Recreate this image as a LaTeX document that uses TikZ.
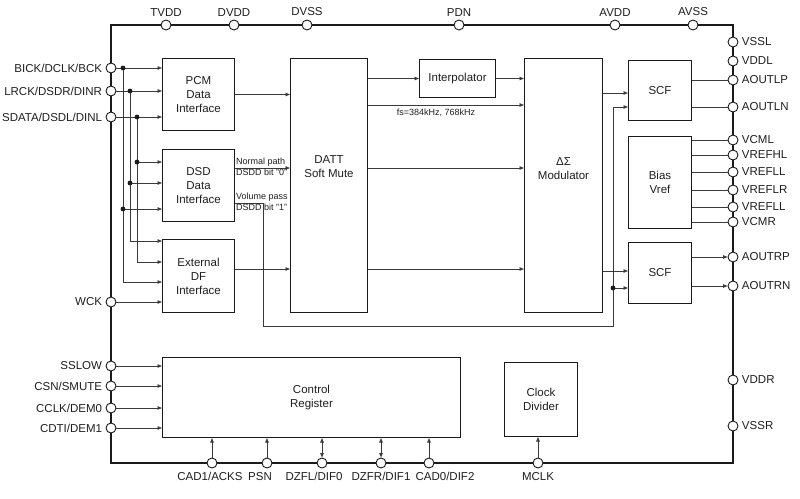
\documentclass[tikz,border=0pt]{standalone}
\usepackage{fontspec}
\setmainfont{Liberation Sans}
\usepackage{xcolor}
\definecolor{cLine}{HTML}{1A1A1A}
\definecolor{cWire}{HTML}{3A3A3A}
\definecolor{cText}{HTML}{1E1E1E}
\usepackage{tikz}
\usetikzlibrary{positioning,arrows.meta,calc}
\tikzset{
  node-box/.style={draw=cLine,line width=1pt,inner sep=0pt,align=center},
  node-pin/.style={draw=cLine,line width=0.9pt,fill=white,circle,
    minimum size=10pt,inner sep=0pt,label distance=-1.5pt},
  node-note/.style={font=\fontsize{9}{10}\selectfont,inner sep=1pt},
  % frame = chip outline, wire = signal lines inside
  frame-line/.style={draw=cLine,line width=1.1pt},
  wire/.style={draw=cWire,line width=0.8pt},
  arrow/.style={wire,-{Triangle[length=4.5pt,width=3.5pt]}},
  arrow-both/.style={wire,{Triangle[length=4.5pt,width=3.5pt]}-{Triangle[length=4.5pt,width=3.5pt]}},
}

\begin{document}
\begin{tikzpicture}[x=1pt,y=-1pt,font=\fontsize{11.5}{14}\selectfont,text=cText]
  \useasboundingbox (0,0) rectangle (800,498);
  \coordinate (frame-nw) at (111,25);
  \coordinate (frame-se) at (733,463);
  \draw[frame-line] (frame-nw) rectangle (frame-se);

  % blocks
  \node[node-box,minimum width=72pt,minimum height=72pt,anchor=north west] (pcm) at (162,58) {PCM\\Data\\Interface};
  \node[node-box,minimum width=72pt,minimum height=72pt,below=18pt of pcm.south west,anchor=north west] (dsd) {DSD\\Data\\Interface};
  \node[node-box,minimum width=72pt,minimum height=73pt,below=17pt of dsd.south west,anchor=north west] (ext) {External\\DF\\Interface};
  \node[node-box,minimum width=77pt,minimum height=254pt,anchor=north west] (datt) at (290,58) {};
  \node[align=center] (datt-txt) at ($(datt.center)+(0,-19)$) {DATT\\Soft Mute};
  \node[node-box,minimum width=76pt,minimum height=38pt,anchor=north west] (interp) at (419,59) {Interpolator};
  \node[node-box,minimum width=78pt,minimum height=254pt,anchor=north west] (mod) at (524,58) {};
  \node[align=center] (mod-txt) at ($(mod.center)+(0,-17)$) {ΔΣ\\Modulator};
  \node[node-box,minimum width=63pt,minimum height=60pt,anchor=north west] (scf-l) at (628,60) {SCF};
  \node[node-box,minimum width=63pt,minimum height=92pt,anchor=north west] (bias) at (628,136) {Bias\\Vref};
  \node[node-box,minimum width=63pt,minimum height=61pt,anchor=north west] (scf-r) at (628,242) {SCF};
  \node[node-box,minimum width=298pt,minimum height=80pt,anchor=north west] (ctrl) at (162,357) {Control\\Register};
  \node[node-box,minimum width=73pt,minimum height=74pt,anchor=north west] (clkdiv) at (504,362) {Clock\\Divider};

  % pins, top
  \node[node-pin,label=above:TVDD] (p-tvdd) at (166,25) {};
  \node[node-pin,label=above:DVDD] (p-dvdd) at (234,25) {};
  \node[node-pin,label=above:DVSS] (p-dvss) at (307,25) {};
  \node[node-pin,label=above:PDN] (p-pdn) at (459,25) {};
  \node[node-pin,label=above:AVDD] (p-avdd) at (615,25) {};
  \node[node-pin,label=above:AVSS] (p-avss) at (693,25) {};
  % pins, left
  \node[node-pin,label=left:BICK/DCLK/BCK] (p-bick) at (111,68) {};
  \node[node-pin,label=left:LRCK/DSDR/DINR] (p-lrck) at (111,91) {};
  \node[node-pin,label=left:SDATA/DSDL/DINL] (p-sdata) at (111,117) {};
  \node[node-pin,label=left:WCK] (p-wck) at (111,302) {};
  \node[node-pin,label=left:SSLOW] (p-sslow) at (111,366) {};
  \node[node-pin,label=left:CSN/SMUTE] (p-csn) at (111,386) {};
  \node[node-pin,label=left:CCLK/DEM0] (p-cclk) at (111,408) {};
  \node[node-pin,label=left:CDTI/DEM1] (p-cdti) at (111,428) {};
  % pins, right
  \node[node-pin,label=right:VSSL] (p-vssl) at (733,42) {};
  \node[node-pin,label=right:VDDL] (p-vddl) at (733,61) {};
  \node[node-pin,label=right:AOUTLP] (p-aoutlp) at (733,80) {};
  \node[node-pin,label=right:AOUTLN] (p-aoutln) at (733,107) {};
  \node[node-pin,label=right:VCML] (p-vcml) at (733,140) {};
  \node[node-pin,label=right:VREFHL] (p-vrefhl) at (733,155) {};
  \node[node-pin,label=right:VREFLL] (p-vrefll) at (733,172) {};
  \node[node-pin,label=right:VREFLR] (p-vreflr) at (733,190) {};
  \node[node-pin,label=right:VREFLL] (p-vrefll-b) at (733,207) {};
  \node[node-pin,label=right:VCMR] (p-vcmr) at (733,222) {};
  \node[node-pin,label=right:AOUTRP] (p-aoutrp) at (733,257) {};
  \node[node-pin,label=right:AOUTRN] (p-aoutrn) at (733,286) {};
  \node[node-pin,label=right:VDDR] (p-vddr) at (733,380) {};
  \node[node-pin,label=right:VSSR] (p-vssr) at (733,426) {};
  % pins, bottom (labels sit a little off-centre, as printed)
  \node[node-pin,label={[xshift=-2pt]below:CAD1/ACKS}] (p-cad1) at (212,463) {};
  \node[node-pin,label={[xshift=-7pt]below:PSN}] (p-psn) at (267,463) {};
  \node[node-pin,label={[xshift=-8pt]below:DZFL/DIF0}] (p-dzfl) at (322,463) {};
  \node[node-pin,label=below:DZFR/DIF1] (p-dzfr) at (381,463) {};
  \node[node-pin,label={[xshift=16pt]below:CAD0/DIF2}] (p-cad0) at (429,463) {};
  \node[node-pin,label=below:MCLK] (p-mclk) at (538,463) {};

  % serial inputs and bus
  \coordinate (j-bick) at (p-bick -| 123,0);
  \coordinate (j-lrck) at (p-lrck -| 130,0);
  \coordinate (j-sdata) at (p-sdata -| 137,0);
  \coordinate (j-bick-dsd) at (j-bick |- 0,209);
  \coordinate (j-lrck-dsd) at (j-lrck |- 0,183);
  \coordinate (j-sdata-dsd) at (j-sdata |- 0,162);
  \draw[arrow] (p-bick) -- (p-bick -| pcm.west);
  \draw[arrow] (p-lrck) -- (p-lrck -| pcm.west);
  \draw[arrow] (p-sdata) -- (p-sdata -| pcm.west);
  \draw[arrow] (j-bick) |- (ext.west |- 0,282);
  \draw[arrow] (j-lrck) |- (ext.west |- 0,241);
  \draw[arrow] (j-sdata) |- (ext.west |- 0,262);
  \draw[arrow] (j-bick-dsd) -- (j-bick-dsd -| dsd.west);
  \draw[arrow] (j-lrck-dsd) -- (j-lrck-dsd -| dsd.west);
  \draw[arrow] (j-sdata-dsd) -- (j-sdata-dsd -| dsd.west);
  \draw[arrow] (p-wck) -- (p-wck -| ext.west);
  \fill[cLine] (j-bick) circle (2.4pt) (j-lrck) circle (2.4pt) (j-sdata) circle (2.4pt)
    (j-bick-dsd) circle (2.4pt) (j-lrck-dsd) circle (2.4pt) (j-sdata-dsd) circle (2.4pt);

  % interfaces to DATT
  \draw[arrow] (pcm.east) -- (pcm.east -| datt.west);
  \coordinate (dsd-norm) at (dsd.east |- 0,168);
  \draw[arrow] (dsd-norm) -- (dsd-norm -| datt.west);
  \node[node-note,anchor=south west] (lbl-norm) at (dsd-norm) {Normal path};
  \node[node-note,anchor=north west] (lbl-norm-bit) at (dsd-norm) {DSDD bit "0"};
  \draw[arrow] (ext.east |- 0,269) -- (datt.west |- 0,269);

  % volume pass around the DATT
  \coordinate (dsd-vol) at (dsd.east |- 0,203);
  \coordinate (vol-x) at (263,326);
  \coordinate (vol-bus) at (613,326);
  \coordinate (j-vol) at (vol-bus |- 0,288);
  \draw[arrow] (dsd-vol) -| (vol-x) -- (vol-bus) |- (scf-l.west |- 0,107);
  \draw[arrow] (j-vol) -- (j-vol -| scf-r.west);
  \fill[cLine] (j-vol) circle (2.4pt);
  \node[node-note,anchor=south west] (lbl-vol) at (dsd-vol) {Volume pass};
  \node[node-note,anchor=north west] (lbl-vol-bit) at (dsd-vol) {DSDD bit "1"};

  % DATT to modulator
  \draw[arrow] (datt.east |- interp.west) -- (interp.west);
  \draw[arrow] (interp.east) -- (interp.east -| mod.west);
  \draw[arrow] (datt.east |- 0,105) -- (mod.west |- 0,105);
  \node[node-note] (lbl-fs) at (436,113) {fs=384kHz, 768kHz};
  \draw[arrow] (datt.east |- 0,168) -- (mod.west |- 0,168);
  \draw[arrow] (datt.east |- 0,269) -- (mod.west |- 0,269);
  \draw[arrow] (mod.east |- 0,93) -- (scf-l.west |- 0,93);
  \draw[arrow] (mod.east |- 0,271) -- (scf-r.west |- 0,271);

  % analog side
  \draw[wire] (p-aoutlp -| scf-l.east) -- (p-aoutlp);
  \draw[wire] (p-aoutln -| scf-l.east) -- (p-aoutln);
  \draw[wire] (p-vcml -| bias.east) -- (p-vcml);
  \draw[wire] (p-vrefhl -| bias.east) -- (p-vrefhl);
  \draw[wire] (p-vrefll -| bias.east) -- (p-vrefll);
  \draw[wire] (p-vreflr -| bias.east) -- (p-vreflr);
  \draw[wire] (p-vrefll-b -| bias.east) -- (p-vrefll-b);
  \draw[wire] (p-vcmr -| bias.east) -- (p-vcmr);
  \draw[arrow] (p-aoutrp -| scf-r.east) -- (p-aoutrp);
  \draw[arrow] (p-aoutrn -| scf-r.east) -- (p-aoutrn);

  % control port
  \draw[arrow] (p-sslow) -- (p-sslow -| ctrl.west);
  \draw[arrow] (p-csn) -- (p-csn -| ctrl.west);
  \draw[arrow] (p-cclk) -- (p-cclk -| ctrl.west);
  \draw[arrow] (p-cdti) -- (p-cdti -| ctrl.west);
  \draw[arrow] (p-cad1) -- (p-cad1 |- ctrl.south);
  \draw[arrow] (p-psn) -- (p-psn |- ctrl.south);
  \draw[arrow-both] (p-dzfl) -- (p-dzfl |- ctrl.south);
  \draw[arrow-both] (p-dzfr) -- (p-dzfr |- ctrl.south);
  \draw[arrow] (p-cad0) -- (p-cad0 |- ctrl.south);
  \draw[arrow] (p-mclk) -- (p-mclk |- clkdiv.south);
\end{tikzpicture}
\end{document}
